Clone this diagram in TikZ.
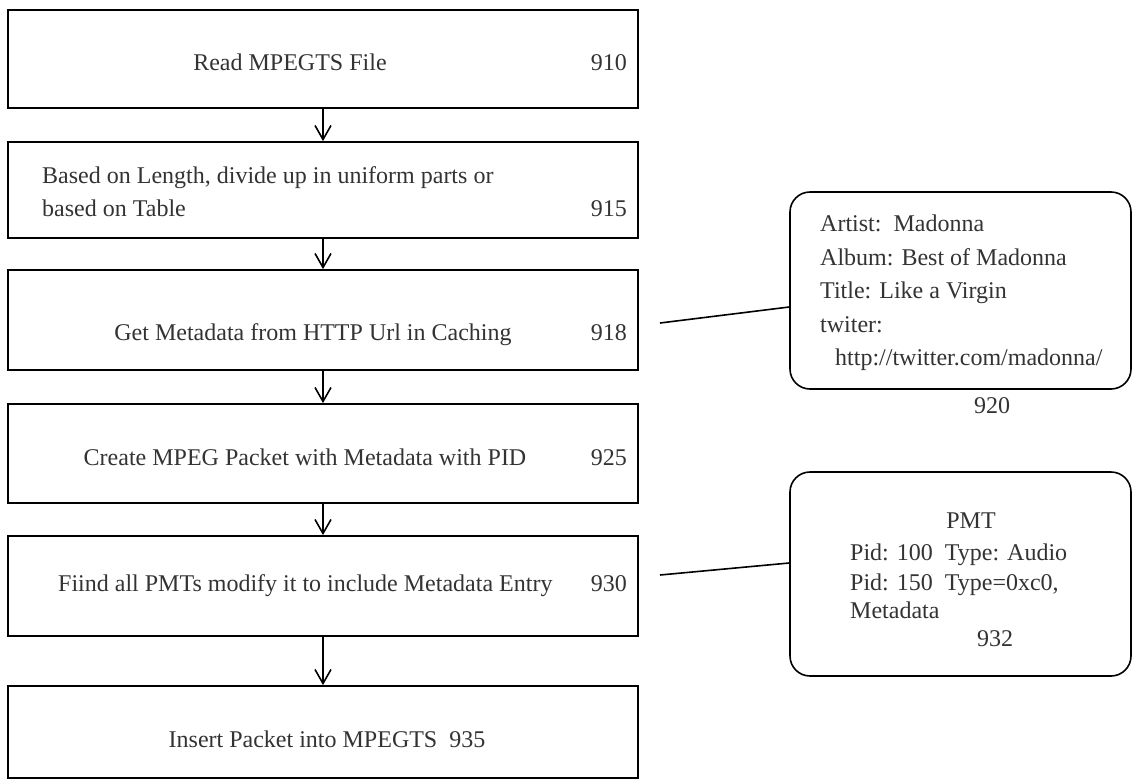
\documentclass[tikz,border=0pt]{standalone}
\usepackage{fontspec}
\setmainfont{Liberation Serif}
\usetikzlibrary{arrows.meta}
\begin{document}
\begin{tikzpicture}[x=1pt,y=-1pt,
  box/.style={draw=black, line width=1.8pt, minimum width=630pt, inner sep=0pt},
  callout/.style={draw=black, line width=1.6pt, rounded corners=20pt, minimum width=341pt, inner sep=0pt},
  txt/.style={font=\fontsize{24}{29}\selectfont, text=black!80, inner sep=0pt},
  arr/.style={line width=1.6pt, -{Straight Barb[length=14pt,width=16pt,line width=1.6pt]}},
  link/.style={line width=1.6pt}]
\useasboundingbox (0,0) rectangle (1133,782);
\fill[white] (0,0) rectangle (1133,782);
% process boxes
\node[box, minimum height=98pt]  (b1) at (323,59) {};
\node[box, minimum height=96pt]  (b2) at (323,190) {};
\node[box, minimum height=100pt] (b3) at (323,320) {};
\node[box, minimum height=99pt]  (b4) at (323,453.5) {};
\node[box, minimum height=100pt] (b5) at (323,586) {};
\node[box, minimum height=92pt]  (b6) at (323,732) {};
% texts
\node[txt, anchor=base] (t1) at (290,70) {Read MPEGTS File};
\node[txt, anchor=base east] (n1) at (627,70) {910};
\node[txt, anchor=base west] (t2a) at (42,183) {Based on Length, divide up in uniform parts or};
\node[txt, anchor=base west] (t2b) at (42,216) {based on Table};
\node[txt, anchor=base east] (n2) at (627,216) {915};
\node[txt, anchor=base] (t3) at (313,340) {Get Metadata from HTTP Url in Caching};
\node[txt, anchor=base east] (n3) at (627,340) {918};
\node[txt, anchor=base] (t4) at (305,465) {Create MPEG Packet with Metadata with PID};
\node[txt, anchor=base east] (n4) at (627,465) {925};
\node[txt, anchor=base west] (t5) at (58,591) {Fiind all PMTs modify it to include Metadata Entry};
\node[txt, anchor=base east] (n5) at (627,591) {930};
\node[txt, anchor=base] (t6) at (327,747) {Insert Packet into MPEGTS\ \ 935};
% arrows
\draw[arr] (b1.south) -- (b2.north);
\draw[arr] (b2.south) -- (b3.north);
\draw[arr] (b3.south) -- (b4.north);
\draw[arr] (b4.south) -- (b5.north);
\draw[arr] (b5.south) -- (b6.north);
% callouts
\node[callout, minimum height=197pt] (c1) at (960.5,290.5) {};
\node[txt, anchor=base west] (c1a) at (820,231) {Artist:\ \ Madonna};
\node[txt, anchor=base west] (c1b) at (820,265) {Album: Best of Madonna};
\node[txt, anchor=base west] (c1c) at (820,298) {Title: Like a Virgin};
\node[txt, anchor=base west] (c1d) at (820,332) {twiter:};
\node[txt, anchor=base west] (c1e) at (835,365) {http://twitter.com/madonna/};
\node[txt, anchor=base] (n920) at (992,413) {920};
\node[callout, minimum height=204pt] (c2) at (960.5,574) {};
\node[txt, anchor=base] (c2a) at (971,528) {PMT};
\node[txt, anchor=base west] (c2b) at (850,560) {Pid: 100\ \ Type: Audio};
\node[txt, anchor=base west] (c2c) at (850,590) {Pid: 150\ \ Type=0xc0,};
\node[txt, anchor=base west] (c2d) at (850,618) {Metadata};
\node[txt, anchor=base] (n932) at (995,646) {932};
% connectors
\coordinate (l1) at (660,323);
\coordinate (l2) at (660,575);
\draw[link] (l1) -- ([yshift=-16.5pt]c1.west);
\draw[link] (l2) -- ([yshift=11pt]c2.west);
\end{tikzpicture}
\end{document}
